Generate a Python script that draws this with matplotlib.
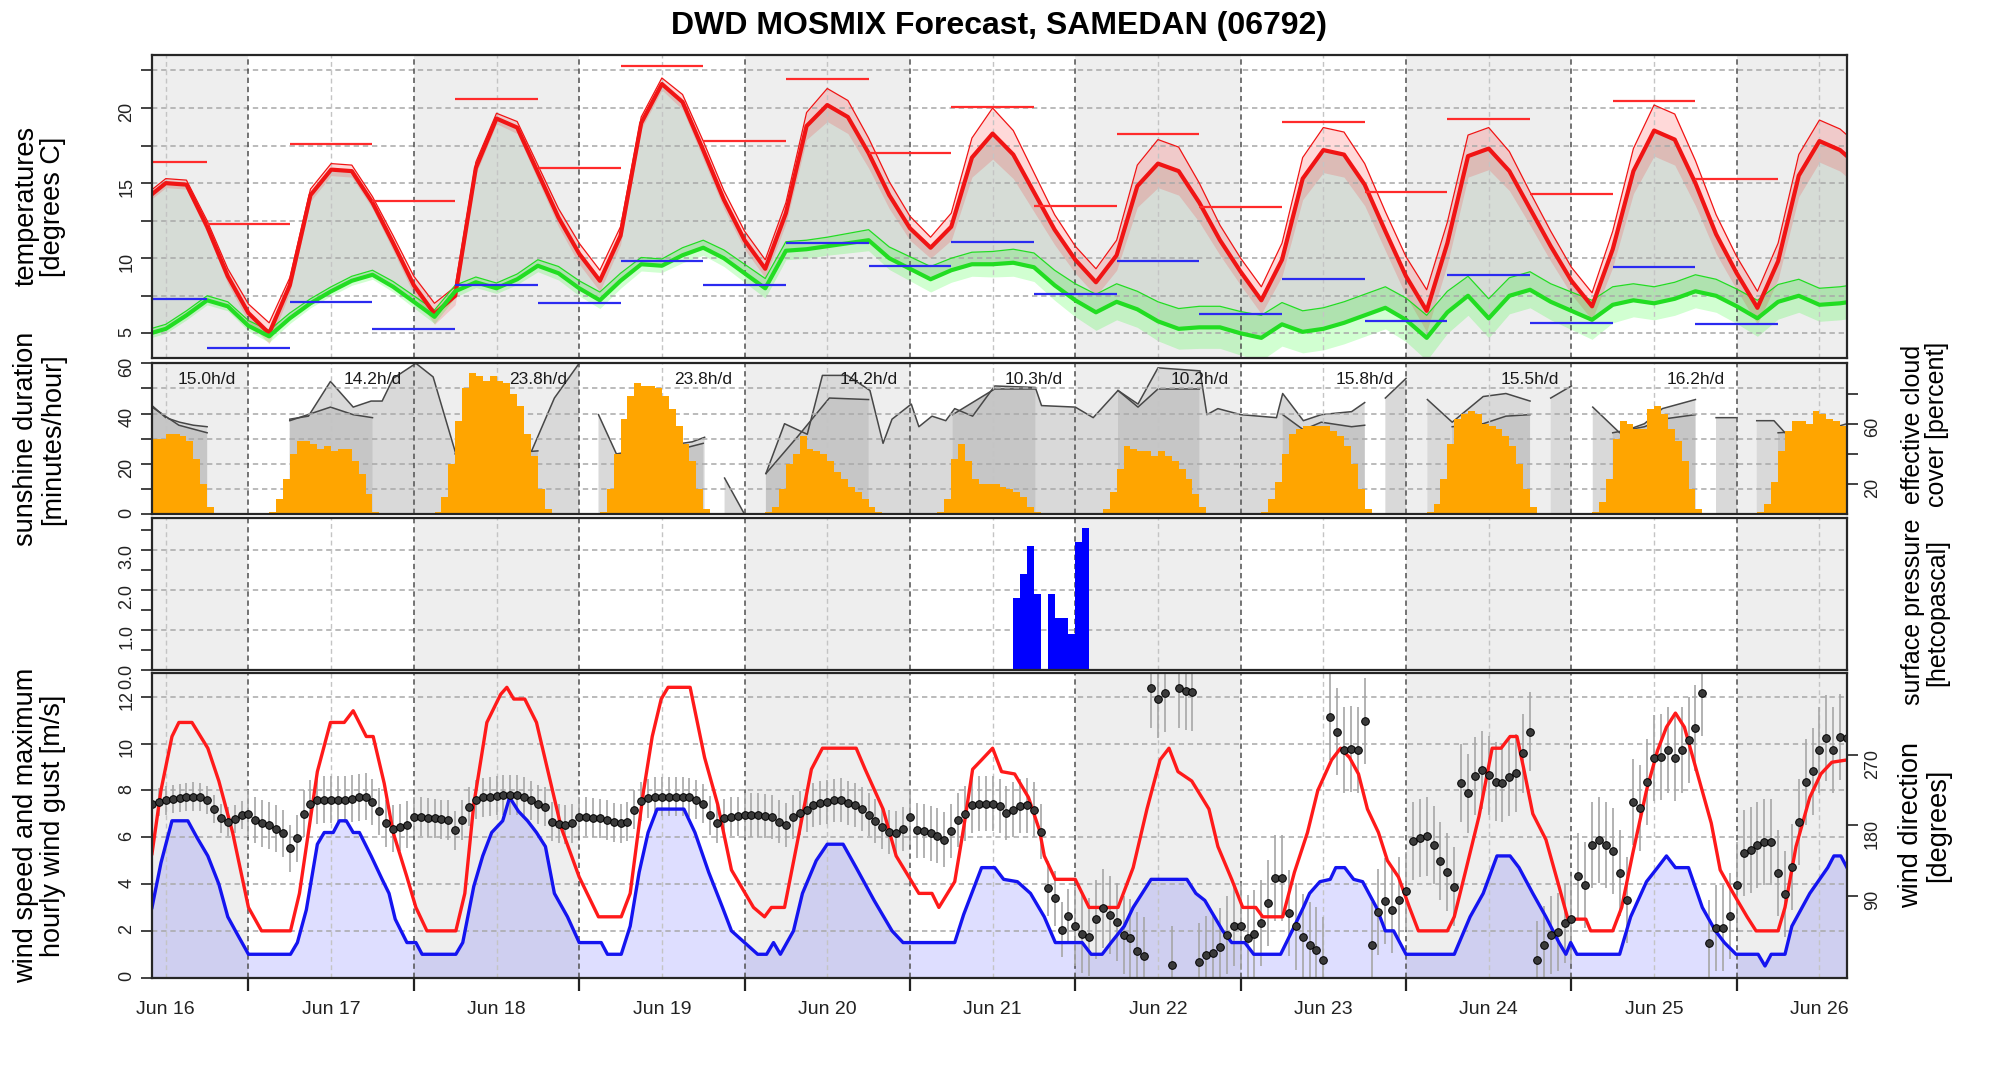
import numpy as np
import matplotlib
matplotlib.use("Agg")
import matplotlib.pyplot as plt

nan = np.nan

# x axis: hours after Jun 16 00:00
t_first, t_last = 10, 256
series_start, series_step = 9, 3      # 3-hourly series start at 09:00
day_labels = ['Jun 16', 'Jun 17', 'Jun 18', 'Jun 19', 'Jun 20', 'Jun 21',
              'Jun 22', 'Jun 23', 'Jun 24', 'Jun 25', 'Jun 26']

# temperature / dew point [deg C], 3-hourly
temp_c = [13.9, 15.0, 14.9, 12.1, 8.8, 6.35, 5.0, 8.2, 14.2, 15.9, 15.8, 13.7, 11.0, 8.2, 6.3, 7.5,
          16.0, 19.3, 18.7, 15.7, 12.7, 10.3, 8.5, 11.5, 19.0, 21.6, 20.4, 17.2, 13.9, 11.2, 9.3, 13.0,
          18.8, 20.2, 19.4, 17.0, 14.2, 12.0, 10.7, 12.1, 16.7, 18.3, 16.9, 14.4, 11.9, 9.9, 8.4, 10.2,
          14.8, 16.3, 15.8, 13.7, 11.2, 9.1, 7.2, 9.9, 15.3, 17.2, 16.9, 14.9, 11.8, 8.8, 6.5, 11.0,
          16.8, 17.3, 15.8, 13.3, 10.8, 8.5, 6.8, 10.6, 15.8, 18.5, 17.9, 15.0, 11.6, 9.0, 6.7, 9.8,
          15.5, 17.8, 17.2, 16.0]
temp_spread = [0.3, 0.3, 0.3, 0.4, 0.5, 0.6, 0.7, 0.5, 0.4, 0.4, 0.4, 0.4, 0.5, 0.6, 0.7, 0.6,
               0.4, 0.35, 0.4, 0.5, 0.6, 0.7, 0.7, 0.6, 0.4, 0.4, 0.5, 0.6, 0.6, 0.6, 0.6, 0.7,
               0.9, 1.1, 1.1, 1.0, 0.9, 0.8, 0.7, 0.9, 1.3, 1.7, 1.6, 1.3, 1.0, 0.9, 0.9, 1.0,
               1.4, 1.6, 1.6, 1.3, 1.0, 0.9, 0.9, 1.1, 1.4, 1.5, 1.5, 1.4, 1.3, 1.3, 1.4, 1.4,
               1.4, 1.4, 1.3, 1.1, 1.0, 0.9, 0.9, 1.2, 1.5, 1.7, 1.7, 1.5, 1.3, 1.1, 1.1, 1.2,
               1.4, 1.4, 1.4, 1.4]
dew_c = [4.9, 5.3, 6.2, 7.2, 6.8, 5.5, 4.8, 6.0, 7.0, 7.8, 8.5, 8.9, 8.1, 7.1, 6.1, 7.8,
         8.4, 8.0, 8.6, 9.5, 9.0, 8.0, 7.2, 8.5, 9.6, 9.5, 10.2, 10.7, 10.0, 9.0, 8.0, 10.5,
         10.6, 10.8, 11.0, 11.2, 10.0, 9.3, 8.6, 9.2, 9.6, 9.6, 9.7, 9.4, 8.2, 7.2, 6.4, 7.1,
         6.6, 5.8, 5.3, 5.4, 5.4, 5.0, 4.7, 5.6, 5.1, 5.3, 5.7, 6.2, 6.7, 5.9, 4.7, 6.4,
         7.5, 6.0, 7.5, 7.9, 7.1, 6.5, 5.9, 6.9, 7.2, 7.0, 7.3, 7.8, 7.5, 6.8, 6.0, 7.1,
         7.5, 6.9, 7.0, 7.2]
dew_spread = [0.3, 0.3, 0.3, 0.3, 0.3, 0.35, 0.4, 0.35, 0.3, 0.3, 0.3, 0.3, 0.35, 0.4, 0.45, 0.4,
              0.35, 0.35, 0.35, 0.4, 0.45, 0.5, 0.55, 0.5, 0.45, 0.45, 0.5, 0.5, 0.55, 0.6, 0.65, 0.6,
              0.6, 0.6, 0.65, 0.7, 0.75, 0.8, 0.85, 0.8, 0.8, 0.85, 0.9, 0.95, 1.0, 1.1, 1.2, 1.2,
              1.2, 1.3, 1.35, 1.4, 1.4, 1.45, 1.5, 1.45, 1.4, 1.4, 1.4, 1.4, 1.4, 1.45, 1.5, 1.4,
              1.3, 1.3, 1.2, 1.2, 1.2, 1.25, 1.3, 1.2, 1.1, 1.1, 1.1, 1.1, 1.1, 1.15, 1.2, 1.15,
              1.1, 1.1, 1.1, 1.1]

# 12-hour extremes, segment edges in hours
seg_edges = [10] + list(range(18, 247, 12))
tmax_seg = [16.4, 12.3, 17.6, 13.8, 20.6, 16.0, 22.8, 17.8, 21.9, 17.0,
            20.1, 13.5, 18.3, 13.4, 19.1, 14.4, 19.3, 14.3, 20.5, 15.3]
tmin_seg = [7.3, 4.0, 7.1, 5.3, 8.2, 7.0, 9.8, 8.2, 11.0, 9.5,
            11.1, 7.6, 9.8, 6.3, 8.6, 5.8, 8.9, 5.7, 9.4, 5.6]

# sunshine [minutes/hour], hourly bars per day
sun_start = [10, 27, 51, 75, 99, 124, 148, 171, 195, 219, 243]
sun_minutes = [
    [30, 30, 32, 32, 31, 29, 22, 12, 3],
    [1, 6, 14, 24, 29, 29, 28, 26, 27, 25, 26, 26, 21, 16, 8, 1],
    [1, 7, 20, 37, 50, 56, 55, 53, 55, 53, 52, 48, 43, 32, 23, 10, 2],
    [1, 10, 24, 38, 47, 52, 51, 51, 50, 47, 42, 35, 28, 21, 10, 2],
    [1, 3, 10, 20, 24, 31, 26, 25, 24, 21, 17, 14, 11, 9, 6, 3, 1],
    [1, 6, 22, 28, 21, 14, 12, 12, 12, 11, 10, 9, 7, 3, 1],
    [2, 9, 18, 27, 26, 25, 25, 23, 25, 23, 21, 18, 14, 8, 3],
    [1, 6, 13, 24, 32, 34, 35, 35, 35, 35, 33, 31, 27, 20, 10, 2],
    [1, 4, 14, 28, 38, 40, 41, 40, 36, 35, 34, 31, 27, 20, 10, 3],
    [1, 5, 14, 30, 37, 36, 34, 34, 42, 43, 40, 34, 29, 21, 10, 2],
    [1, 4, 13, 25, 33, 37, 37, 36, 41, 40, 38, 37, 35],
]
sun_day_text = ['15.0h/d', '14.2h/d', '23.8h/d', '23.8h/d', '14.2h/d',
                 '10.3h/d', '10.2h/d', '15.8h/d', '15.5h/d', '16.2h/d']

# effective cloud cover [percent]; nan marks gaps
cloud_t = [10, 12, 14, 16, 18, 19,
           30, 32.7, 35.9, 39.2, 41.8, 43.4, 45, 48.3, 50.8, 54.1, 57, 60, 63, 65.1, 68.4, 72, 73,
           74.8, 77.4, 80, 84, 88.4, 90.2, 91.5,
           93.1, 96, 97.5,
           99.1, 101.8, 105.1, 107.3, 110.9, 114.2, 116.1, 117.4, 120.2, 121.3, 123.2, 125.2,
           126.5, 129.1, 132.3, 138.2, 139.1, 144, 146.6, 150.2, 153.1, 156, 162.1, 163.1, 164.7,
           168, 173.2, 174.1, 177.1, 179.7, 184.1, 186, 187.5,
           189, 192, 193.5,
           195.1, 198.7, 203.2, 206.5, 210, 211.5,
           213, 216, 217.5,
           219.1, 223, 226.6, 229.2, 234, 235.5,
           237, 240, 241.5,
           242.9, 245.4, 247, 250, 253, 256]
cloud_pct = [72, 64, 61, 59, 58, nan,
             63, 65, 88, 71, 75, 75, 90, 100, 91, 40, 40, 40, 41, 42, 77, 100, nan,
             66, 40, 42, 45, 48, 51, nan,
             24, 0, nan,
             27, 60, 53, 92, 92, 82, 47, 63, 73, 58, 65, 62,
             70, 65, 85, 84, 72, 71, 64, 82, 73, 97, 95, 66, 70,
             66, 64, 80, 62, 66, 68, 74, nan,
             77, 90, nan,
             76, 61, 78, 80, 75, nan,
             77, 85, nan,
             71, 54, 60, 70, 76, nan,
             64, 64, nan,
             62, 62, 54, 52, 56, 60]
low_t = [10, 13.9, 18, 19,
         30, 35.9, 39.2, 42, 43,
         54, 60, 66, 67,
         78, 84, 90, 91,
         99.1, 103.8, 108.3, 114, 115,
         126.2, 132.3, 138.2, 139,
         150.2, 153.1, 156, 162, 163,
         174.1, 177.1, 179.7, 184.1, 186, 187,
         198.7, 203.2, 206.5, 210, 211,
         222, 226.6, 229.2, 234, 235,
         246, 250, 256]
low_pct = [71, 59, 54, nan,
           62, 71, 66, 64, nan,
           40, 40, 42, nan,
           38, 40, 47, nan,
           27, 52, 77, 76, nan,
           66, 83, 83, nan,
           82, 71, 83, 83, nan,
           66, 56, 61, 58, 59, nan,
           58, 60, 65, 66, nan,
           54, 58, 63, 66, nan,
           54, 55, 56]

# precipitation, hourly
precip_start = 135
precip_mm = [1.8, 2.4, 3.1, 1.9, 0.0, 1.9, 1.3, 1.3, 0.9, 3.2, 3.57]

# wind speed [m/s], vertices of the line (hour, value)
speed_t = [10, 11.3, 12.9, 15.2, 16.5, 18.1, 19.7, 21, 22.3, 24, 30.1, 31.1, 32.4, 34, 35, 36.3,
           37.2, 38.2, 39.2, 40.1, 41.8, 43.4, 44.4, 45.3, 47, 48.3, 49.2, 54.1, 55.1, 56.7, 58,
           59.3, 60.9, 61.9, 63.2, 64.5, 65.8, 67.1, 68.4, 70.3, 72, 75.2, 76.1, 78.1, 79.4, 80.7,
           82, 83.3, 87.2, 88.8, 90.8, 92.8, 94.1, 96, 97.9, 99.2, 100.2, 101.2, 103.1, 104.4,
           106.4, 108, 110.3, 112.2, 114.8, 117.4, 119, 126.5, 127.8, 130.4, 132.3, 133.6, 135.6,
           137.5, 139.5, 141.1, 145, 146.3, 147.9, 149.2, 151.1, 152.4, 155, 160.2, 161.5, 162.8,
           165.4, 166.7, 168.6, 169.9, 173.8, 175.8, 177.1, 178, 179.5, 181, 181.8, 183.1, 184.4,
           185.7, 187.7, 189, 190.2, 192, 199, 201.3, 203.2, 205.2, 207.1, 208.4, 210.4, 212.3,
           214.2, 215.2, 215.9, 216.8, 223, 224.6, 226.9, 228.5, 229.8, 231.1, 233, 235, 236.9,
           238.2, 239.9, 243.1, 244.1, 245, 247, 248, 250.6, 253.2, 254.1, 255.1, 256]
speed_v = [3.0, 4.9, 6.7, 6.7, 6.0, 5.2, 4.0, 2.6, 1.9, 1.0, 1.0, 1.5, 2.9, 5.7, 6.2, 6.2,
           6.7, 6.7, 6.2, 6.2, 5.2, 4.2, 3.6, 2.5, 1.5, 1.5, 1.0, 1.0, 1.5, 3.9, 5.2,
           6.2, 6.7, 7.7, 7.1, 6.7, 6.2, 5.6, 3.6, 2.6, 1.5, 1.5, 1.0, 1.0, 2.2, 4.5,
           6.2, 7.2, 7.2, 6.2, 4.5, 3.0, 2.0, 1.5, 1.0, 1.0, 1.5, 1.0, 2.0, 3.6,
           5.0, 5.7, 5.7, 4.7, 3.3, 2.0, 1.5, 1.5, 2.7, 4.7, 4.7, 4.2, 4.1,
           3.6, 2.6, 1.5, 1.5, 1.0, 1.0, 1.5, 2.2, 3.0, 4.2, 4.2, 3.6, 3.3,
           2.0, 1.5, 1.5, 1.0, 1.0, 2.2, 3.0, 3.6, 4.1, 4.2, 4.7, 4.7, 4.2,
           4.1, 3.0, 2.0, 2.0, 1.0, 1.0, 2.6, 3.6, 5.2, 5.2, 4.7, 3.6, 2.6,
           1.5, 1.0, 1.5, 1.0, 1.0, 2.6, 4.1, 4.7, 5.2, 4.7, 4.7, 3.0, 2.0,
           1.5, 1.0, 1.0, 0.5, 1.0, 1.0, 2.2, 3.6, 4.7, 5.2, 5.2, 4.7]

# maximum hourly gust [m/s], vertices of the line (hour, value)
gust_t = [10, 11.3, 12.9, 13.9, 15.8, 18.1, 19.7, 21.7, 24, 25.9, 30.1, 31.4, 34, 35.9, 37.9,
          39.2, 41.1, 42.1, 43.7, 45, 47, 48.3, 49.9, 54.1, 55.4, 56.7, 58.6, 60.6, 61.5, 62.5,
          64.1, 65.8, 67.4, 69.4, 72, 74.8, 78.1, 79.4, 81.3, 82.6, 83.9, 84.9, 88.1, 90.2, 92.1,
          94.1, 97.3, 98.9, 99.9, 101.8, 103.8, 105.7, 107.3, 112.2, 113.5, 116.1, 118, 121.3,
          123.2, 124.2, 126.5, 127.8, 129.1, 130.4, 132, 133.3, 135.2, 137.2, 138.8, 139.5, 141.1,
          144, 146, 150.2, 152.4, 154.4, 156.3, 157.6, 158.9, 160.9, 163.4, 164.7, 166.7, 168.3,
          170.2, 171.2, 174.1, 175.8, 177.7, 179.2, 181.2, 182.5, 183.8, 185.1, 186.4, 188, 189.3,
          190.9, 192.5, 193.8, 198, 199, 200.6, 202.6, 204.5, 205.8, 207.1, 208.1, 209.1, 210.4,
          212.3, 214.2, 215.5, 218.1, 218.8, 222, 223.3, 224.9, 226.9, 228.5, 229.8, 231.1, 232.4,
          234.3, 236.3, 237.6, 239.5, 241.5, 242.8, 246, 247, 248.6, 250.6, 252.2, 253.8, 256]
gust_v = [5.3, 8.0, 10.3, 10.9, 10.9, 9.8, 8.4, 6.2, 3.0, 2.0, 2.0, 3.6, 8.8, 10.9, 10.9,
          11.4, 10.3, 10.3, 8.3, 6.2, 4.3, 3.0, 2.0, 2.0, 3.6, 7.4, 10.9, 12.1, 12.4, 11.9,
          11.9, 10.9, 8.9, 6.4, 4.3, 2.6, 2.6, 3.6, 7.9, 10.3, 11.9, 12.4, 12.4, 9.4, 7.4,
          4.6, 3.0, 2.6, 3.0, 3.0, 6.0, 8.9, 9.8, 9.8, 8.9, 7.2, 5.2, 3.6,
          3.6, 3.0, 4.1, 6.4, 8.9, 9.3, 9.8, 8.8, 8.7, 7.7, 6.3, 5.2, 4.2,
          4.2, 3.0, 3.0, 4.7, 7.2, 9.3, 9.8, 8.8, 8.4, 7.2, 5.6, 4.2, 3.0,
          3.0, 2.6, 2.6, 4.5, 6.2, 8.0, 9.3, 9.8, 9.4, 8.7, 7.2, 6.2, 5.0,
          4.3, 3.0, 2.0, 2.0, 2.6, 4.5, 6.9, 9.8, 9.8, 10.3, 10.3, 8.9, 7.0,
          5.9, 3.9, 2.5, 2.5, 2.0, 2.0, 3.0, 5.3, 8.0, 9.7, 10.7, 11.3, 10.7,
          8.7, 6.6, 4.6, 3.6, 2.6, 2.0, 2.0, 3.0, 5.6, 7.7, 8.7, 9.2, 9.3]

# wind direction [degrees], hourly from 10:00 on Jun 16
wind_dir = [
    208, 210, 212, 214, 215, 216, 217, 216, 213, 201, 189, 185, 188, 193,
    195, 187, 183, 180, 176, 170, 151, 164, 195, 208, 212, 213, 213, 213, 213, 214, 216, 217, 210, 198, 183, 176, 178, 181,
    191, 191, 190, 189, 188, 187, 174, 187, 204, 213, 216, 217, 218, 219, 219, 219, 217, 212, 207, 204, 185, 182, 181, 183,
    191, 191, 190, 189, 187, 184, 183, 185, 200, 211, 215, 217, 217, 217, 217, 217, 216, 213, 208, 193, 183, 189, 191, 192,
    193, 193, 193, 192, 191, 185, 181, 191, 196, 200, 206, 209, 210, 212, 213, 209, 206, 201, 194, 186, 178, 172, 170, 175,
    191, 174, 173, 170, 167, 162, 173, 187, 195, 206, 208, 208, 208, 205, 196, 200, 205, 206, 200, 172, 100, 87, 47, 64,
    51, 42, 38, 60, 74, 66, 57, 40, 36, 20, 13, 355, 342, 349, 2, 355, 352, 351, 6, 14, 17, 25, 40, 51,
    51, 36, 42, 55, 81, 113, 113, 68, 51, 38, 27, 21, 8, 319, 300, 276, 278, 276, 313, 27, 70, 83, 72, 85,
    96, 160, 164, 166, 155, 135, 121, 102, 234, 221, 243, 251, 244, 236, 234, 242, 247, 272, 300, 8, 27, 40, 44, 55,
    60, 115, 104, 155, 161, 155, 147, 119, 85, 210, 202, 236, 266, 268, 276, 266, 276, 289, 304, 349, 30, 49, 49, 64,
    104, 145, 149, 155, 159, 159, 119, 93, 127, 185, 236, 249, 276, 292, 276, 293, 292,
]
dir_spread_by_day = [18, 30, 25, 25, 28, 35, 50, 55, 50, 55, 55]

# ---------------------------------------------------------------------------
plt.rcParams['font.family'] = ['Liberation Sans Narrow', 'Liberation Sans', 'DejaVu Sans']
label_font = ['Liberation Sans', 'DejaVu Sans']

hours = series_start + series_step * np.arange(len(temp_c))
temp = np.array(temp_c)
dew = np.array(dew_c)
t_sp = np.array(temp_spread)
d_sp = np.array(dew_spread)

fig = plt.figure(figsize=(20, 10.67), dpi=100)
left, right = 0.076, 0.9235
ax1 = fig.add_axes([left, 0.6645, right - left, 0.9486 - 0.6645])
ax2 = fig.add_axes([left, 0.518, right - left, 0.6595 - 0.518])
ax3 = fig.add_axes([left, 0.372, right - left, 0.5142 - 0.372])
ax4 = fig.add_axes([left, 0.0837, right - left, 0.369 - 0.0837])

dash = (0, (3.5, 2.5))


def frame(ax, ylim, hgrid, major, minor, labels=None):
    ax.set_xlim(t_first, t_last)
    ax.set_ylim(*ylim)
    for d in range(0, 11, 2):
        ax.axvspan(24 * d, 24 * d + 24, color='#eeeeee', lw=0, zorder=0)
    for y in hgrid:
        ax.axhline(y, color='#a8a8a8', lw=1.1, ls=dash, zorder=2.5)
    for d in range(11):
        ax.axvline(24 * d + 12, color='#c4c4c4', lw=1.0, ls=dash, zorder=2.5)
        ax.axvline(24 * d, color='#505050', lw=1.1, ls=dash, zorder=2.5)
    for s in ax.spines.values():
        s.set_color('#262626')
        s.set_linewidth(1.6)
        s.set_zorder(10)
    ax.set_yticks(major, labels=labels if labels else [str(v) for v in major])
    ax.set_yticks(minor, minor=True)
    ax.tick_params(axis='y', which='both', direction='out', length=8, width=1.2,
                   colors='#222222', labelsize=13, labelrotation=90, pad=4)
    ax.set_xticks([])


# --- temperatures
frame(ax1, (3.36, 23.54), np.arange(5, 23, 2.5), [5, 10, 15, 20], [7.5, 12.5, 17.5, 22.5])
ax1.fill_between(hours, dew, temp, color='#d6dcd6', lw=0, zorder=1)
ax1.fill_between(hours, temp - t_sp, temp + t_sp, color='red', alpha=0.15, lw=0, zorder=1.2)
ax1.fill_between(hours, dew - d_sp, dew + d_sp, color='#00ff00', alpha=0.18, lw=0, zorder=1.3)
ax1.plot(hours, temp + t_sp, color='#f01414', lw=0.9, zorder=3)
ax1.plot(hours, dew + d_sp, color='#22dd22', lw=0.9, zorder=3)
ax1.plot(hours, temp, color='#f01414', lw=3.0, zorder=3.5)
ax1.plot(hours, dew, color='#22dd22', lw=3.0, zorder=3.5)
ax1.hlines(tmax_seg, seg_edges[:-1], seg_edges[1:], colors='#ff2b2b', lw=1.6, zorder=4)
ax1.hlines(tmin_seg, seg_edges[:-1], seg_edges[1:], colors='#2b2bf0', lw=1.6, zorder=4)

# --- sunshine and cloud cover
frame(ax2, (0, 60), [10, 20, 30, 40, 50], [0, 20, 40, 60], [10, 30, 50])
cl_t = np.array(cloud_t)
cl_v = np.array(cloud_pct) * 0.6
lo_t = np.array(low_t)
lo_v = np.array(low_pct) * 0.6
ax2.fill_between(cl_t, 0, cl_v, color='#d9d9d9', lw=0, zorder=1.5)
ax2.fill_between(lo_t, 0, lo_v, color='#c6c6c6', lw=0, zorder=1.7)
ax2.plot(cl_t, cl_v, color='#474747', lw=1.1, zorder=2)
ax2.plot(lo_t, lo_v, color='#474747', lw=1.1, zorder=2)
for start, mins in zip(sun_start, sun_minutes):
    ax2.bar(np.arange(start, start + len(mins)), mins, width=1.0, align='edge',
            color='#ffa500', lw=0, zorder=3)
for k, txt in enumerate(sun_day_text):
    ax2.text(18 + 24 * k, 53.5, txt, ha='center', va='center', fontsize=12.5,
             color='#1a1a1a', zorder=6)
sec2 = ax2.secondary_yaxis('right', functions=(lambda m: m / 0.6, lambda p: p * 0.6))
sec2.set_yticks([20, 40, 60, 80], labels=['20', '', '60', ''])
sec2.tick_params(axis='y', direction='out', length=8, width=1.2, colors='#222222',
                 labelsize=13, labelrotation=90, pad=4)
sec2.spines['right'].set_visible(False)

# --- precipitation
frame(ax3, (0, 3.8), [1, 2, 3], [0, 1, 2, 3], [0.5, 1.5, 2.5, 3.5],
      labels=['0.0', '1.0', '2.0', '3.0'])
ax3.bar(np.arange(precip_start, precip_start + len(precip_mm)), precip_mm, width=1.0,
        align='edge', color='#0000ff', lw=0, zorder=3)

# --- wind
frame(ax4, (0, 13), [2, 4, 6, 8, 10, 12], [0, 2, 4, 6, 8, 10, 12], [])
ax4.fill_between(speed_t, 0, speed_v, color='#0000ff', alpha=0.13, lw=0, zorder=1)
ax4.plot(gust_t, gust_v, color='#ff1a1a', lw=2.4, zorder=3.5)
ax4.plot(speed_t, speed_v, color='#1414f0', lw=2.4, zorder=3.5)


def d2w(d):
    return (np.asarray(d) + 14.4) * 13.0 / 388.8


def w2d(w):
    return np.asarray(w) * 388.8 / 13.0 - 14.4


dir_hours = np.arange(t_first, t_first + len(wind_dir))
dirs = np.array(wind_dir, dtype=float)
spread = np.array(dir_spread_by_day)[dir_hours // 24]
ax4.vlines(dir_hours, d2w(dirs - spread), d2w(dirs + spread), colors='#a6a6a6', lw=1.2, zorder=2.8)
ax4.plot(dir_hours, d2w(dirs), 'o', ms=5.5, mfc='#3a3a3a', mec='#000000', mew=0.7, zorder=5)
sec4 = ax4.secondary_yaxis('right', functions=(w2d, d2w))
sec4.set_yticks([90, 180, 270], labels=['90', '180', '270'])
sec4.tick_params(axis='y', direction='out', length=8, width=1.2, colors='#222222',
                 labelsize=13, labelrotation=90, pad=4)
sec4.spines['right'].set_visible(False)

ax4.set_xticks([12 + 24 * k for k in range(11)], labels=day_labels)
ax4.set_xticks([24 * k for k in range(1, 11)], minor=True)
ax4.tick_params(axis='x', which='major', length=0, pad=17, labelsize=14, colors='#222222')
ax4.tick_params(axis='x', which='minor', length=9, width=1.6, direction='out', colors='#222222')

# --- titles and axis labels
fig.text(0.4995, 0.976, 'DWD MOSMIX Forecast, SAMEDAN (06792)', ha='center', va='center',
         fontsize=23, fontweight='bold', family=label_font)


def side_label(x, y, txt, size=19.5):
    fig.text(x, y, txt, rotation=90, ha='center', va='center',
             multialignment='center', fontsize=size, family=label_font, linespacing=1.05)


def mid(ax):
    p = ax.get_position()
    return (p.y0 + p.y1) / 2


side_label(0.02, mid(ax1), 'temperatures\n[degrees C]')
side_label(0.02, mid(ax2), 'sunshine duration\n[minutes/hour]')
side_label(0.02, mid(ax4), 'wind speed and maximum\nhourly wind gust [m/s]')
# the two right labels of the middle panels sit close together
side_label(0.9625, 1 - 424 / 1067, 'effective cloud\ncover [percent]', size=18)
side_label(0.9625, 1 - 612 / 1067, 'surface pressure\n[hetcopascal]', size=18)
side_label(0.9625, mid(ax4), 'wind direction\n[degrees]')

fig.savefig('out.png', dpi=100, facecolor='white')
